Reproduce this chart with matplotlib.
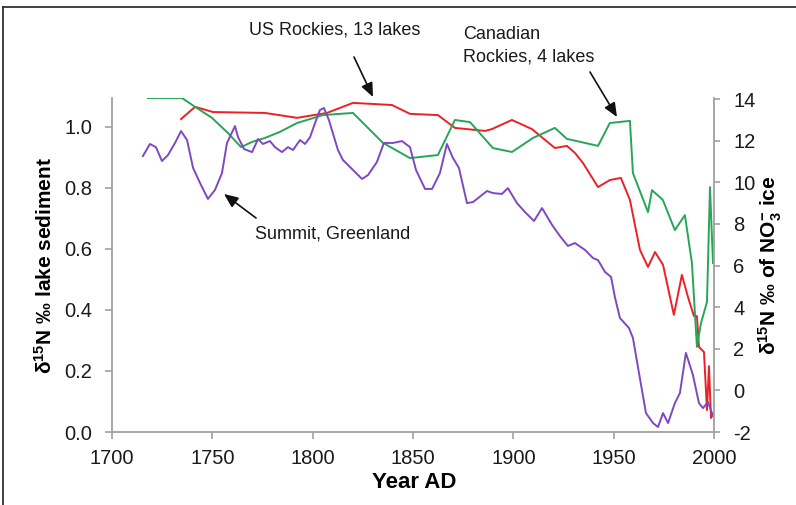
import matplotlib
matplotlib.use("Agg")
import matplotlib.pyplot as plt
from matplotlib.lines import Line2D

plt.rcParams['font.family'] = ['Liberation Sans', 'DejaVu Sans']
plt.rcParams['mathtext.fontset'] = 'custom'
plt.rcParams['mathtext.rm'] = 'Liberation Sans'
plt.rcParams['mathtext.bf'] = 'Liberation Sans:bold'
plt.rcParams['mathtext.it'] = 'Liberation Sans:italic'
plt.rcParams['axes.unicode_minus'] = False

# ---------------- data ----------------
# US Rockies, 13 lakes (left axis, d15N permil lake sediment)
us_years = [1734.4, 1741.4, 1750.3, 1776.2, 1792.2, 1807.1, 1820.1, 1839.5, 1848.5,
            1862.4, 1870.9, 1885.9, 1889.3, 1899.3, 1909.3, 1920.7, 1926.7, 1930.7,
            1934.7, 1942.2, 1948.1, 1953.6, 1958.1, 1963.1, 1967.1, 1970.6, 1974.6,
            1980.0, 1984.0, 1987.0, 1990.0, 1991.5, 1992.5, 1995.0, 1996.5, 1997.5,
            1998.5, 1999.5]
us_vals = [1.026, 1.066, 1.049, 1.046, 1.030, 1.046, 1.079, 1.072, 1.043,
           1.039, 0.997, 0.987, 0.993, 1.023, 0.993, 0.931, 0.938, 0.915,
           0.882, 0.803, 0.826, 0.833, 0.761, 0.597, 0.541, 0.590, 0.548,
           0.384, 0.515, 0.443, 0.380, 0.380, 0.279, 0.262, 0.072, 0.216,
           0.046, 0.060]

# Canadian Rockies, 4 lakes (left axis)
ca_years = [1717.9, 1734.9, 1741.4, 1749.8, 1757.8, 1764.3, 1769.8, 1776.2, 1783.7,
            1792.2, 1805.1, 1820.1, 1835.0, 1848.5, 1862.4, 1870.9, 1878.4, 1889.8,
            1899.3, 1909.8, 1920.7, 1926.7, 1942.2, 1948.1, 1958.1, 1959.6, 1967.1,
            1969.1, 1974.5, 1980.5, 1985.5, 1989.0, 1991.5, 1993.5, 1996.5, 1998.0,
            1999.5]
ca_vals = [1.095, 1.095, 1.066, 1.030, 0.980, 0.934, 0.951, 0.964, 0.984,
           1.013, 1.039, 1.046, 0.948, 0.898, 0.908, 1.023, 1.016, 0.931,
           0.918, 0.964, 0.997, 0.961, 0.938, 1.013, 1.020, 0.849, 0.721,
           0.793, 0.761, 0.662, 0.711, 0.554, 0.279, 0.357, 0.426, 0.803,
           0.554]

# Summit, Greenland (right axis, d15N permil of NO3- ice)
gr_years = [1715.4, 1718.9, 1721.9, 1724.9, 1727.9, 1731.4, 1734.4, 1737.4, 1740.4,
            1743.9, 1747.8, 1751.3, 1754.8, 1757.3, 1761.3, 1762.8, 1765.8, 1769.8,
            1772.8, 1775.2, 1778.7, 1781.2, 1784.7, 1787.7, 1790.2, 1793.7, 1796.2,
            1798.7, 1801.2, 1803.6, 1805.6, 1808.1, 1812.6, 1815.1, 1820.1, 1824.6,
            1827.6, 1832.0, 1835.5, 1840.0, 1844.5, 1848.5, 1851.5, 1856.0, 1859.5,
            1863.4, 1866.9, 1869.9, 1872.9, 1876.9, 1879.9, 1886.9, 1889.9, 1894.3,
            1897.3, 1901.8, 1905.8, 1910.3, 1914.3, 1919.3, 1923.2, 1927.2, 1930.7,
            1935.7, 1939.7, 1942.2, 1945.7, 1948.7, 1950.6, 1953.1, 1957.6, 1959.6,
            1962.1, 1966.1, 1969.6, 1972.1, 1974.6, 1977.1, 1980.5, 1983.0, 1986.0,
            1989.5, 1992.5, 1994.5, 1997.0, 1999.5]
gr_vals = [11.26, 11.84, 11.69, 11.02, 11.31, 11.89, 12.46, 12.03, 10.69,
           9.96, 9.20, 9.63, 10.44, 11.89, 12.70, 12.17, 11.60, 11.45,
           12.08, 11.84, 11.98, 11.69, 11.45, 11.69, 11.55, 12.03, 11.84,
           12.17, 12.85, 13.47, 13.57, 12.99, 11.55, 11.07, 10.59, 10.16,
           10.35, 10.97, 11.89, 11.89, 11.98, 11.69, 10.59, 9.68, 9.68,
           10.44, 11.84, 11.17, 10.69, 9.00, 9.05, 9.58, 9.48, 9.44,
           9.72, 9.00, 8.57, 8.14, 8.76, 7.95, 7.42, 6.94, 7.08,
           6.75, 6.36, 6.26, 5.69, 5.45, 4.49, 3.48, 3.00, 2.52,
           1.12, -1.09, -1.57, -1.76, -1.09, -1.57, -0.61, -0.13, 1.80,
           0.74, -0.61, -0.85, -0.56, -1.23]

xticks = [1700, 1750, 1800, 1850, 1900, 1950, 2000]
left_ticks = [0.0, 0.2, 0.4, 0.6, 0.8, 1.0]
right_ticks = [-2, 0, 2, 4, 6, 8, 10, 12, 14]

RED = '#ec2027'
GREEN = '#27a658'
PURPLE = '#7e48c2'
SPINE = '#a0a0a0'

# ---------------- figure ----------------
fig = plt.figure(figsize=(7.96, 5.05), dpi=100)
W, H = 796, 505
L, R, B, T = 112, 714, 432, 98
ax = fig.add_axes([L / W, 1 - B / H, (R - L) / W, (B - T) / H])
ax2 = ax.twinx()

ax.plot(us_years, us_vals, color=RED, lw=1.4)
ax.plot(ca_years, ca_vals, color=GREEN, lw=1.4)
ax2.plot(gr_years, gr_vals, color=PURPLE, lw=1.4)

ax.set_xlim(1700, 2000)
ax.set_ylim(0, 1.095)
ax2.set_ylim(-2, 14.05)

ax.set_xticks(xticks)
ax.set_yticks(left_ticks)
ax.set_yticklabels([f'{v:.1f}' for v in left_ticks])
ax2.set_yticks(right_ticks)

for a in (ax, ax2):
    for s in a.spines.values():
        s.set_color(SPINE)
        s.set_linewidth(1.3)
    a.spines['top'].set_visible(False)
ax.spines['right'].set_visible(False)
ax2.spines['left'].set_visible(False)
ax2.spines['bottom'].set_visible(False)

ax.tick_params(axis='both', direction='out', length=5, width=1.2, color=SPINE,
               labelsize=14.5, labelcolor='#1a1a1a')
ax.tick_params(axis='y', pad=9)
ax.tick_params(axis='x', pad=7)
ax2.tick_params(axis='y', direction='out', length=4, width=1.2, color=SPINE,
                labelsize=14.5, labelcolor='#1a1a1a', pad=10)

ax.set_xlabel('Year AD', fontsize=16, fontweight='bold')
ax.xaxis.set_label_coords((414 - L) / (R - L), (B - 483) / (B - T))
ax.xaxis.label.set_va('center')

ax.set_ylabel(r'δ$^{\mathbf{15}}$N ‰ lake sediment', fontsize=15, fontweight='bold')
ax.yaxis.set_label_coords((45 - L) / (R - L), 0.5)
ax.yaxis.label.set_va('center')

ax2.set_ylabel(r'δ$^{\mathbf{15}}$N ‰ of NO$_{\mathbf{3}}^{\mathbf{-}}$ ice',
               fontsize=15, fontweight='bold', rotation=90)
ax2.yaxis.set_label_coords((770 - L) / (R - L), 0.5)
ax2.yaxis.label.set_va('center')

def axc(px, py):
    return ((px - L) / (R - L), (B - py) / (B - T))

arrow = dict(arrowstyle='-|>,head_length=0.7,head_width=0.3', color='#111111',
             lw=1.2, shrinkA=0, shrinkB=0, mutation_scale=12)

ax2.text(*axc(335, 30), 'US Rockies, 13 lakes', transform=ax.transAxes,
         ha='center', va='center', fontsize=13, color='#1a1a1a')
ax2.annotate('', xy=axc(373, 97), xytext=axc(354, 57), xycoords='axes fraction',
             textcoords='axes fraction', arrowprops=arrow, annotation_clip=False)

ax2.text(*axc(463, 45.5), 'Canadian\nRockies, 4 lakes', transform=ax.transAxes,
         ha='left', va='center', fontsize=13, color='#1a1a1a', linespacing=1.45)
ax2.annotate('', xy=axc(617, 117), xytext=axc(590, 72), xycoords='axes fraction',
             textcoords='axes fraction', arrowprops=arrow, annotation_clip=False)

ax2.text(*axc(255, 234), 'Summit, Greenland', transform=ax.transAxes,
         ha='left', va='center', fontsize=13, color='#1a1a1a')
ax2.annotate('', xy=axc(224, 194), xytext=axc(256, 218), xycoords='axes fraction',
             textcoords='axes fraction', arrowprops=arrow, annotation_clip=False)

# partial frame around the figure (top and left edges)
fig.add_artist(Line2D([3 / W, 1.0], [1 - 7 / H, 1 - 7 / H], transform=fig.transFigure,
                      color='#333333', lw=1.3))
fig.add_artist(Line2D([3 / W, 3 / W], [1 - 7 / H, 0.0], transform=fig.transFigure,
                      color='#333333', lw=1.3))

fig.savefig('out.png', dpi=100)
